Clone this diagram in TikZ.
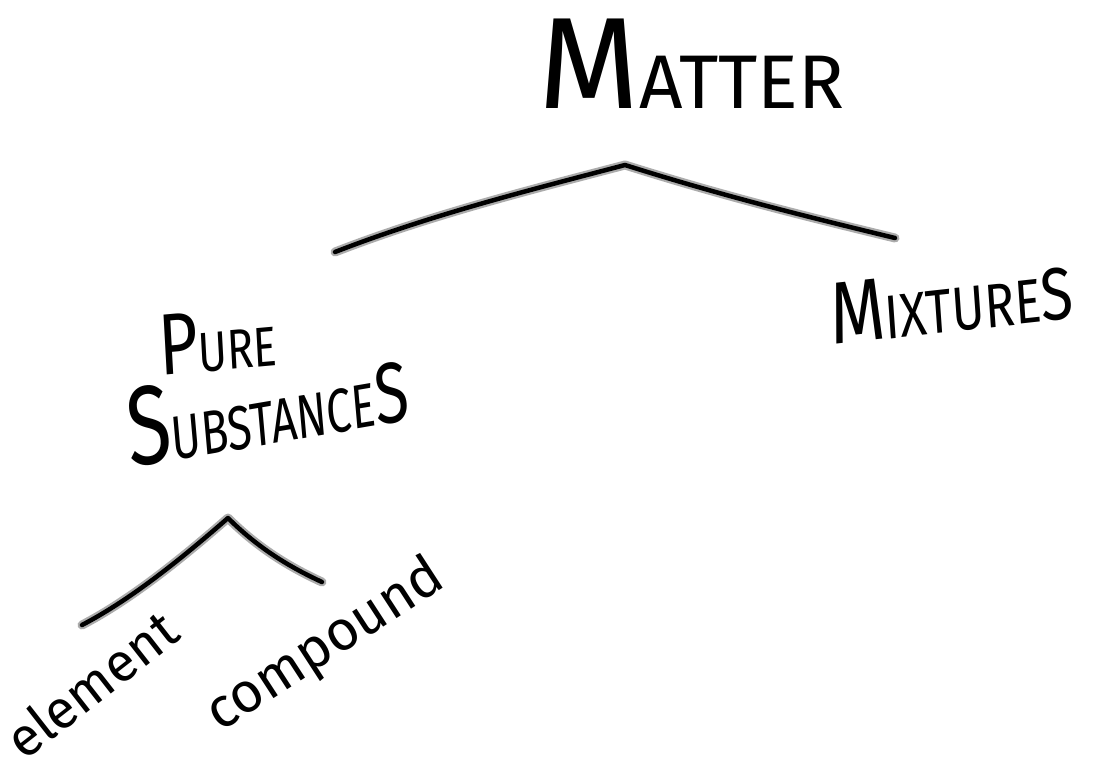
\documentclass[tikz,border=0pt]{standalone}
\usepackage{fontspec}
\setmainfont{Fira Sans}
\usetikzlibrary{positioning}

\newcommand{\fsz}[1]{\fontsize{#1}{#1}\selectfont}

\begin{document}
\begin{tikzpicture}[x=1pt,y=-1pt,
  pen/.style={line width=4.5pt,line cap=round,line join=round,
    preaction={draw,gray!65,line width=9pt,line cap=round,line join=round}},
  word/.style={inner sep=0pt,anchor=base west}]
\useasboundingbox (0,0) rectangle (1105,777);
% words
\node[word] (matter) at (538,108) {\fsz{130}M\fsz{76}ATTER};
\node[word,xscale=0.78,rotate=4] (pure) at (160,376) {\fsz{87}P\fsz{56}URE};
\node[word,xscale=0.72,rotate=7] (subst) at (130,468) {\fsz{112}S\fsz{62}UBSTANCE\fsz{86}S};
\node[word,xscale=0.8,rotate=5] (mix) at (832,345) {\fsz{88}M\fsz{62}IXTURE\fsz{74}S};
\node[word,rotate=38] (elem) at (24,762) {\fsz{54}element};
\node[word,rotate=33] (comp) at (220,733) {\fsz{56}compound};
% branches
\coordinate (mtop) at (625,165);
\coordinate (mleft) at (335,252);
\coordinate (mright) at (895,238);
\coordinate (ptop) at (228,518);
\coordinate (pleft) at (82,625);
\coordinate (pright) at (322,582);
\draw[pen] (mleft) .. controls (430,215) and (530,190) .. (mtop)
  .. controls (720,195) and (800,215) .. (mright);
\draw[pen] (pleft) .. controls (130,600) and (180,560) .. (ptop)
  .. controls (255,545) and (285,565) .. (pright);
\end{tikzpicture}
\end{document}
